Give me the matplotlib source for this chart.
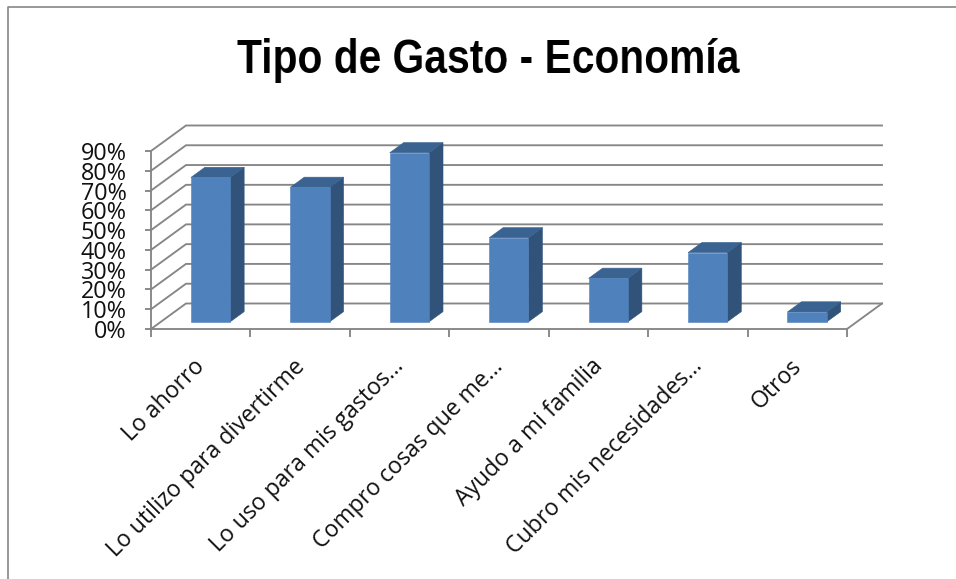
import matplotlib
matplotlib.use('Agg')
import matplotlib.pyplot as plt
import numpy as np
from matplotlib.lines import Line2D
from matplotlib.patches import Polygon

categories = ['Lo ahorro', 'Lo utilizo para divertirme', 'Lo uso para mis gastos…',
              'Compro cosas que me…', 'Ayudo a mi familia', 'Cubro mis necesidades…', 'Otros']
values = [73, 68, 85.5, 42.5, 22, 35, 5]
y_ticks = [0, 10, 20, 30, 40, 50, 60, 70, 80, 90]
y_labels = ['0%', '10%', '20%', '30%', '40%', '50%', '60%', '70%', '80%', '90%']

GRID = '#868686'
FRONT = '#4F81BD'
SIDE = '#31537A'
TOP = '#3A6391'
LW = 1.35

W, H = 956, 579
DEPTH_X = 0.352   # floor depth, in category widths
DEPTH_Y = 12.9    # floor depth, in percentage points


def project(x, y, depth):
    # oblique projection: depth 0 is the front plane, depth 1 the back wall
    return x + depth * DEPTH_X, y + depth * DEPTH_Y


def draw_bar(ax, i, value, width=0.395, d0=0.28, d1=0.68):
    x0 = i + 0.5 - width / 2
    x1 = i + 0.5 + width / 2
    front = [project(x0, 0, d0), project(x1, 0, d0), project(x1, value, d0), project(x0, value, d0)]
    side = [project(x1, 0, d0), project(x1, 0, d1), project(x1, value, d1), project(x1, value, d0)]
    top = [project(x0, value, d0), project(x1, value, d0), project(x1, value, d1), project(x0, value, d1)]
    for pts, color in ((side, SIDE), (top, TOP), (front, FRONT)):
        ax.add_patch(Polygon(pts, closed=True, facecolor=color, edgecolor=color,
                             linewidth=0.4, zorder=3, clip_on=False))


def condense(factor):
    # agg filter that squeezes a rendered text horizontally around its centre
    def apply(img, dpi):
        h, w = img.shape[:2]
        new_w = int(round(w * factor))
        old_x = np.arange(w)
        new_x = np.linspace(0, w - 1, new_w)
        out = np.zeros((h, new_w, img.shape[2]), dtype=img.dtype)
        for row in range(h):
            for ch in range(img.shape[2]):
                out[row, :, ch] = np.interp(new_x, old_x, img[row, :, ch])
        return out, (w - new_w) // 2, 0
    return apply


fig = plt.figure(figsize=(W / 100, H / 100), dpi=100, facecolor='white')
ax = fig.add_axes([151 / W, (H - 329) / H, (847 - 151) / W, 178 / H])
ax.set_xlim(0, len(categories))
ax.set_ylim(0, 90)
ax.patch.set_visible(False)

for name in ('top', 'right'):
    ax.spines[name].set_visible(False)
for name in ('left', 'bottom'):
    ax.spines[name].set_color(GRID)
    ax.spines[name].set_linewidth(LW)

# Back wall and side wall gridlines
for t in y_ticks:
    bx0, by = project(0, t, 1)
    bx1, _ = project(len(categories), t, 1)
    ax.plot([0, bx0, bx1], [t, by, by], color=GRID, lw=LW, clip_on=False, zorder=1,
            solid_joinstyle='miter')

# Right edge of the floor
fx, fy = project(len(categories), 0, 1)
ax.plot([len(categories), fx], [0, fy], color=GRID, lw=LW, clip_on=False, zorder=1)

for i, v in enumerate(values):
    draw_bar(ax, i, v)

ax.set_yticks(y_ticks)
ax.set_yticklabels(y_labels, fontfamily='Open Sans', fontsize=16.8, color='#111111')
ax.tick_params(axis='y', direction='out', length=4.5, width=LW, color=GRID, pad=13)

# Ticks sit on category boundaries, labels on category centres
ax.set_xticks(range(len(categories) + 1))
ax.set_xticklabels([])
ax.tick_params(axis='x', which='major', direction='out', length=5.5, width=LW, color=GRID)
for i, cat in enumerate(categories):
    ax.annotate(cat, xy=(i + 0.5, 0), xytext=(-5.4, -18.4), textcoords='offset points',
                rotation=45, ha='right', va='top', rotation_mode='anchor',
                fontfamily='Open Sans', fontsize=16.6, color='#111111', annotation_clip=False)

title = fig.text(488 / W, (H - 73) / H, 'Tipo de Gasto - Economía', ha='center', va='baseline',
                 fontfamily='Liberation Sans', fontweight='bold', fontsize=35, color='black')
title.set_agg_filter(condense(0.84))

# Chart area border, top and left sides
fig.add_artist(Line2D([8 / W, 8 / W, 1], [0, (H - 7) / H, (H - 7) / H],
                      color=GRID, lw=1.2, transform=fig.transFigure))

fig.savefig('out.png', dpi=100)
